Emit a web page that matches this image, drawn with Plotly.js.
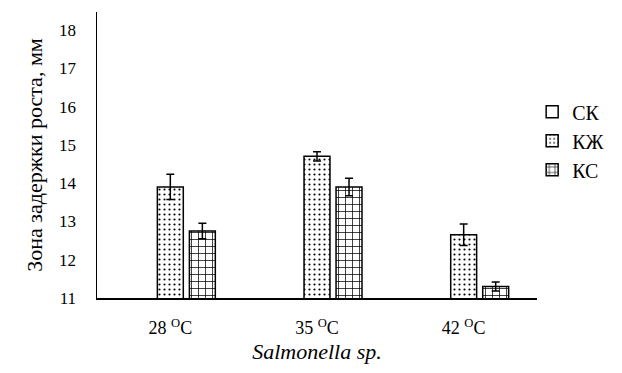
<!DOCTYPE html>
<html><head><meta charset="utf-8">
<script src="https://cdn.plot.ly/plotly-3.0.1.min.js"></script>
<style>html,body{margin:0;padding:0;background:#fff}</style>
</head><body>
<div id="chart" style="width:622px;height:373px"></div>
<script>
const categories = ["28 <sup>O</sup>C", "35 <sup>O</sup>C", "42 <sup>O</sup>C"];
const seriesNames = ["СК", "КЖ", "КС"];
const valuesSK = [null, null, null];
const valuesKZh = [13.9, 14.7, 12.65];
const errorsKZh = [0.33, 0.12, 0.28];
const valuesKS = [12.75, 13.9, 11.3];
const errorsKS = [0.2, 0.23, 0.12];
const yTicks = [11, 12, 13, 14, 15, 16, 17, 18];

const FAM = "Liberation Serif";
function f(size) { return {family: FAM, size: size, color: "#000000"}; }

function mk(name, vals, errs, shape, size, solidity) {
  const t = {
    type: "bar", name: name, x: categories, y: vals,
    marker: {color: "#fff", line: {color: "#000", width: 1.5}},
    hoverinfo: "skip"
  };
  if (shape) t.marker.pattern = {shape: shape, fgcolor: "#000", bgcolor: "#fff", size: size, solidity: solidity};
  if (errs) t.error_y = {type: "data", array: errs, visible: true, color: "#000", thickness: 1.5, width: 4};
  return t;
}

const data = [
  mk(seriesNames[0], valuesSK, null, "", 6, 0.3),
  mk(seriesNames[1], valuesKZh, errorsKZh, ".", 5, 0.15),
  mk(seriesNames[2], valuesKS, errorsKS, "+", 7, 0.2)
];

const layout = {
  width: 622, height: 373,
  margin: {l: 97, r: 85, t: 12, b: 75},
  paper_bgcolor: "#fff", plot_bgcolor: "#fff",
  font: f(17),
  barmode: "group", bargap: 0.345, bargroupgap: 0.19,
  showlegend: true,
  legend: {x: 0.989, xanchor: "left", y: 0.55, yanchor: "middle", font: f(20), traceorder: "normal"},
  xaxis: {
    showline: true, linecolor: "#000", linewidth: 1.5, ticks: "", showgrid: false,
    tickfont: f(18), ticklabelstandoff: 13,
    title: {text: "<i>Salmonella sp.</i>", font: f(22), standoff: 6}
  },
  yaxis: {
    range: [11, 18.47], showline: true, linecolor: "#000", linewidth: 1.5, ticks: "", showgrid: false, zeroline: false,
    tickvals: yTicks, ticklabelstandoff: 16,
    tickfont: f(17),
    title: {text: "Зона задержки роста, мм", font: f(22), standoff: 10}
  }
};

Plotly.newPlot("chart", data, layout, {staticPlot: true, displayModeBar: false});
</script>
</body></html>
